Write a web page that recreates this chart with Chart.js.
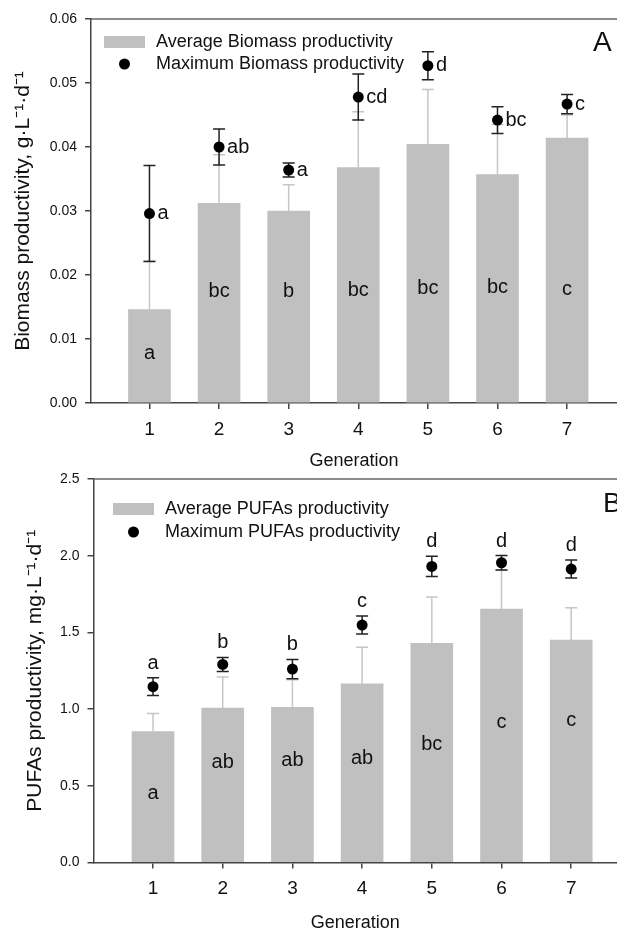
<!DOCTYPE html>
<html>
<head>
<meta charset="utf-8">
<script src="https://cdn.jsdelivr.net/npm/chart.js@4.4.1/dist/chart.umd.min.js"></script>
<style>
  body { margin: 0; background: #fff; }
  #wrap { position: relative; width: 617px; height: 934px; overflow: hidden; }
  canvas { position: absolute; left: 0; }
</style>
</head>
<body>
<div id="wrap">
  <canvas id="chartA" width="617" height="472" style="top:0"></canvas>
  <canvas id="chartB" width="617" height="468" style="top:466px"></canvas>
</div>
<script>
// data
const generations = [1, 2, 3, 4, 5, 6, 7];

// panel A : biomass productivity (g/L/d)
const avgBiomass = [0.0146, 0.0312, 0.0300, 0.0368, 0.0404, 0.0357, 0.0414];
const avgBiomassSd = [0.0076, 0.0076, 0.0041, 0.0087, 0.0086, 0.0078, 0.0036];
const maxBiomass = [0.0296, 0.0400, 0.0364, 0.0478, 0.0527, 0.0442, 0.0467];
const maxBiomassSd = [0.0075, 0.0028, 0.0011, 0.0036, 0.0022, 0.0021, 0.0015];
const avgBiomassLetters = ['a', 'bc', 'b', 'bc', 'bc', 'bc', 'c'];
const avgBiomassLetterY = [0.0077, 0.0174, 0.0174, 0.0176, 0.0179, 0.0181, 0.0177];
const maxBiomassLetters = ['a', 'ab', 'a', 'cd', 'd', 'bc', 'c'];
const biomassTicks = [0, 0.01, 0.02, 0.03, 0.04, 0.05, 0.06];

// panel B : PUFAs productivity (mg/L/d)
const avgPufa = [0.854, 1.007, 1.011, 1.165, 1.428, 1.652, 1.450];
const avgPufaSd = [0.118, 0.202, 0.180, 0.239, 0.302, 0.253, 0.211];
const maxPufa = [1.146, 1.291, 1.261, 1.548, 1.930, 1.954, 1.913];
const maxPufaSd = [0.058, 0.046, 0.063, 0.059, 0.066, 0.047, 0.059];
const avgPufaLetters = ['a', 'ab', 'ab', 'ab', 'bc', 'c', 'c'];
const avgPufaLetterY = [0.452, 0.652, 0.663, 0.676, 0.772, 0.913, 0.924];
const maxPufaLetters = ['a', 'b', 'b', 'c', 'd', 'd', 'd'];
const pufaTicks = [0, 0.5, 1.0, 1.5, 2.0, 2.5];

const family = "'Liberation Sans', Arial, sans-serif";
const ink = '#111';
const axisColor = '#444';
const barGray = '#c0c0c0';

function makePanel(id, p) {
  const deco = {
    id: 'deco',
    beforeDatasetsDraw(chart) {
      const { ctx, scales: { x, y } } = chart;
      ctx.save();
      ctx.lineWidth = 1.5;
      // SD of the average (upper half only)
      ctx.strokeStyle = '#c6c6c6';
      p.gens.forEach((g, i) => {
        const px = x.getPixelForValue(g);
        const base = y.getPixelForValue(p.avg[i]);
        const top = y.getPixelForValue(p.avg[i] + p.avgSd[i]);
        ctx.beginPath();
        ctx.moveTo(px, base); ctx.lineTo(px, top);
        ctx.moveTo(px - 6, top); ctx.lineTo(px + 6, top);
        ctx.stroke();
      });
      // SD of the maximum
      ctx.strokeStyle = '#222';
      p.gens.forEach((g, i) => {
        const px = x.getPixelForValue(g);
        const hi = y.getPixelForValue(p.max[i] + p.maxSd[i]);
        const lo = y.getPixelForValue(p.max[i] - p.maxSd[i]);
        ctx.beginPath();
        ctx.moveTo(px, lo); ctx.lineTo(px, hi);
        ctx.moveTo(px - 6, hi); ctx.lineTo(px + 6, hi);
        ctx.moveTo(px - 6, lo); ctx.lineTo(px + 6, lo);
        ctx.stroke();
      });
      ctx.restore();
    },
    afterDatasetsDraw(chart) {
      const { ctx, chartArea, scales: { x, y } } = chart;
      ctx.save();
      ctx.fillStyle = ink;
      ctx.font = '20px ' + family;
      // letters inside the bars
      ctx.textAlign = 'center';
      ctx.textBaseline = 'middle';
      p.gens.forEach((g, i) => {
        ctx.fillText(p.avgLetters[i], x.getPixelForValue(g), y.getPixelForValue(p.avgLetterY[i]));
      });
      // letters by the points
      p.gens.forEach((g, i) => {
        const px = x.getPixelForValue(g);
        if (p.maxLetterSide) {
          ctx.textAlign = 'left';
          ctx.textBaseline = 'middle';
          ctx.fillText(p.maxLetters[i], px + 8, y.getPixelForValue(p.max[i]));
        } else {
          ctx.textAlign = 'center';
          ctx.textBaseline = 'alphabetic';
          ctx.fillText(p.maxLetters[i], px, y.getPixelForValue(p.max[i] + p.maxSd[i]) - 9);
        }
      });

      // legend
      const L = p.legend;
      ctx.fillStyle = barGray;
      ctx.fillRect(L.x, L.y1 - 6, 41, 12);
      ctx.fillStyle = '#000';
      ctx.beginPath();
      ctx.arc(L.x + 20.5, L.y2, 5.5, 0, Math.PI * 2);
      ctx.fill();
      ctx.fillStyle = ink;
      ctx.font = '18px ' + family;
      ctx.textAlign = 'left';
      ctx.textBaseline = 'middle';
      ctx.fillText(p.avgLabel, L.tx, L.y1);
      ctx.fillText(p.maxLabel, L.tx, L.y2);

      // panel letter
      ctx.font = '28px ' + family;
      ctx.fillText(p.tag, p.tagX, p.tagY);

      // top frame line
      ctx.strokeStyle = '#666';
      ctx.lineWidth = 1.5;
      ctx.beginPath();
      ctx.moveTo(chartArea.left, chartArea.top);
      ctx.lineTo(chartArea.right, chartArea.top);
      ctx.stroke();
      ctx.restore();
    }
  };

  return new Chart(document.getElementById(id), {
    type: 'bar',
    data: {
      datasets: [{
        type: 'scatter',
        label: p.maxLabel,
        data: p.gens.map((g, i) => ({ x: g, y: p.max[i] })),
        backgroundColor: '#000',
        borderWidth: 0,
        pointRadius: 5.5,
        order: 1
      }, {
        label: p.avgLabel,
        data: p.gens.map((g, i) => ({ x: g, y: p.avg[i] })),
        backgroundColor: barGray,
        borderWidth: 0,
        barThickness: 42,
        order: 2
      }]
    },
    options: {
      responsive: false,
      animation: false,
      devicePixelRatio: 1,
      layout: { autoPadding: false, padding: { top: p.padTop, left: 0, right: 0, bottom: 0 } },
      plugins: { legend: { display: false }, tooltip: { enabled: false } },
      scales: {
        x: {
          type: 'linear',
          offset: false,
          min: p.xMin,
          max: p.xMax,
          afterBuildTicks: s => { s.ticks = p.gens.map(v => ({ value: v })); },
          afterFit: s => { s.height = p.xAxisH; s.paddingLeft = 0; s.paddingRight = 0; },
          grid: { offset: false, drawOnChartArea: false, drawTicks: true, tickLength: 6, lineWidth: 1.5, tickColor: axisColor },
          border: { color: axisColor, width: 1.5 },
          ticks: { font: { size: 19, family }, color: ink, padding: 9, callback: v => v },
          title: { display: true, text: 'Generation', font: { size: 18, family }, color: ink, padding: { top: 0, bottom: 0 } }
        },
        y: {
          min: 0,
          max: p.yTicks[p.yTicks.length - 1],
          afterBuildTicks: s => { s.ticks = p.yTicks.map(v => ({ value: v })); },
          afterFit: s => { s.width = p.yAxisW; s.paddingTop = 0; s.paddingBottom = 0; },
          grid: { drawOnChartArea: false, drawTicks: true, tickLength: 6, lineWidth: 1.5, tickColor: axisColor },
          border: { color: axisColor, width: 1.5 },
          ticks: { font: { size: 14, family }, color: ink, padding: 8, callback: v => v.toFixed(p.dec) },
          title: { display: true, text: p.yTitle, font: { size: 21, family }, color: ink, padding: { top: p.yTitlePad, bottom: 0 } }
        }
      }
    },
    plugins: [deco]
  });
}

makePanel('chartA', {
  gens: generations,
  avg: avgBiomass, avgSd: avgBiomassSd,
  max: maxBiomass, maxSd: maxBiomassSd,
  avgLetters: avgBiomassLetters, avgLetterY: avgBiomassLetterY,
  maxLetters: maxBiomassLetters, maxLetterSide: true,
  yTicks: biomassTicks, dec: 2,
  yTitle: 'Biomass productivity, g·L⁻¹·d⁻¹',
  avgLabel: 'Average Biomass productivity',
  maxLabel: 'Maximum Biomass productivity',
  legend: { x: 104, tx: 156, y1: 42, y2: 64 },
  tag: 'A', tagX: 593, tagY: 43,
  padTop: 19, xAxisH: 69, yAxisW: 91, yTitlePad: 11,
  xMin: 0.16, xMax: 7.717
});

makePanel('chartB', {
  gens: generations,
  avg: avgPufa, avgSd: avgPufaSd,
  max: maxPufa, maxSd: maxPufaSd,
  avgLetters: avgPufaLetters, avgLetterY: avgPufaLetterY,
  maxLetters: maxPufaLetters, maxLetterSide: false,
  yTicks: pufaTicks, dec: 1,
  yTitle: 'PUFAs productivity, mg·L⁻¹·d⁻¹',
  avgLabel: 'Average PUFAs productivity',
  maxLabel: 'Maximum PUFAs productivity',
  legend: { x: 113, tx: 165, y1: 43, y2: 66 },
  tag: 'B', tagX: 603, tagY: 38,
  padTop: 13, xAxisH: 71.5, yAxisW: 93.5, yTitlePad: 23,
  xMin: 0.146, xMax: 7.657
});
</script>
</body>
</html>
